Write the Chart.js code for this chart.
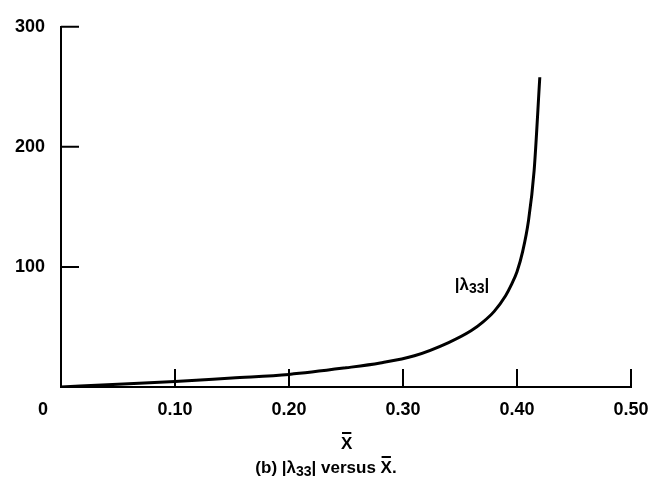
<!DOCTYPE html>
<html>
<head>
<meta charset="utf-8">
<script src="https://cdn.jsdelivr.net/npm/chart.js@4.4.0/dist/chart.umd.min.js"></script>
<style>
  html, body { margin: 0; padding: 0; background: #fff; }
  #wrap { width: 669px; height: 491px; }
</style>
</head>
<body>
<div id="wrap"><canvas id="lambdaChart" width="669" height="491"></canvas></div>
<script>
// X-bar positions and |lambda33| values along the curve
const xBar = [0, 0.05, 0.10, 0.15, 0.20, 0.25, 0.28, 0.31, 0.34, 0.36, 0.37, 0.38, 0.39, 0.395, 0.40, 0.405, 0.41, 0.415, 0.42];
const lambda33 = [0, 2.3, 4.5, 7.5, 10.5, 16, 20, 26, 37, 47, 54, 63, 76, 85, 96, 113, 138, 180, 258];

const xTicks = [0.10, 0.20, 0.30, 0.40, 0.50];
const yTicks = [100, 200, 300];

const FONT = "'Liberation Sans', Arial, sans-serif";

// text with a bar drawn over it
function overlined(ctx, text, x, y, font) {
    ctx.font = font;
    ctx.fillText(text, x, y);
    const m = ctx.measureText(text);
    const top = y - m.actualBoundingBoxAscent - 4;
    ctx.fillRect(x + 1, top - 1, m.width - 2, 2);
    return m.width;
}

// draws pieces left to right; sub pieces are smaller and shifted down
function drawRun(ctx, pieces, cx, y) {
    let total = 0;
    pieces.forEach(p => {
        ctx.font = p.font;
        p.w = ctx.measureText(p.t).width;
        total += p.w;
    });
    let x = cx - total / 2;
    pieces.forEach(p => {
        ctx.font = p.font;
        if (p.bar) overlined(ctx, p.t, x, y + (p.dy || 0), p.font);
        else ctx.fillText(p.t, x, y + (p.dy || 0));
        x += p.w;
    });
}

const decorations = {
    id: 'decorations',
    afterDraw(chart) {
        const ctx = chart.ctx;
        const xs = chart.scales.x;
        const ys = chart.scales.y;
        const x0 = xs.getPixelForValue(0);
        const y0 = ys.getPixelForValue(0);
        ctx.save();
        ctx.fillStyle = '#000';
        ctx.strokeStyle = '#000';
        ctx.lineWidth = 2;

        // tick marks pointing into the plot
        ctx.beginPath();
        xTicks.forEach(v => {
            const px = xs.getPixelForValue(v);
            ctx.moveTo(px, y0);
            ctx.lineTo(px, y0 - 18);
        });
        yTicks.forEach(v => {
            const py = ys.getPixelForValue(v);
            ctx.moveTo(x0, py);
            ctx.lineTo(x0 + 18, py);
        });
        ctx.stroke();

        ctx.textBaseline = 'alphabetic';

        // shared origin label
        ctx.font = 'bold 18px ' + FONT;
        ctx.textAlign = 'center';
        ctx.fillText('0', x0 - 18, y0 + 28);
        ctx.textAlign = 'left';

        // curve label
        const big = 'bold 17px ' + FONT;
        const small = 'bold 14px ' + FONT;
        const lx = xs.getPixelForValue(0.3605);
        const ly = ys.getPixelForValue(81);
        drawRun(ctx, [
            { t: '|\u03bb', font: big },
            { t: '33', font: small, dy: 3 },
            { t: '|', font: big }
        ], lx, ly);

        // axis title
        overlined(ctx, 'X', 341, 449, 'bold 17px ' + FONT);

        // caption
        const cap = 'bold 17px ' + FONT;
        const capSub = 'bold 14px ' + FONT;
        drawRun(ctx, [
            { t: '(b) |\u03bb', font: cap },
            { t: '33', font: capSub, dy: 3 },
            { t: '| versus ', font: cap },
            { t: 'X', font: cap, bar: true },
            { t: '.', font: cap }
        ], 326, 473);

        ctx.restore();
    }
};

const ctx = document.getElementById('lambdaChart').getContext('2d');
const lambdaChart = new Chart(ctx, {
    type: 'line',
    data: {
        datasets: [{
            label: '|λ33|',
            data: xBar.map((x, i) => ({ x: x, y: lambda33[i] })),
            borderColor: '#000',
            borderWidth: 3,
            pointRadius: 0,
            fill: false,
            cubicInterpolationMode: 'monotone'
        }]
    },
    options: {
        responsive: false,
        animation: false,
        layout: {
            padding: { left: 0, right: 38, top: 16, bottom: 0 }
        },
        plugins: {
            legend: { display: false },
            tooltip: { enabled: false }
        },
        scales: {
            x: {
                type: 'linear',
                min: 0,
                max: 0.5,
                afterFit: scale => { scale.height = 104; },
                border: { display: true, color: '#000', width: 2 },
                grid: { display: false, drawTicks: false, tickLength: 0 },
                ticks: {
                    stepSize: 0.1,
                    padding: 12,
                    color: '#000',
                    font: { family: FONT, size: 18, weight: 'bold' },
                    maxRotation: 0,
                    callback: v => (v === 0 ? '' : v.toFixed(2))
                }
            },
            y: {
                min: 0,
                max: 300,
                afterFit: scale => { scale.width = 61; },
                border: { display: true, color: '#000', width: 2 },
                grid: { display: false, drawTicks: false, tickLength: 0 },
                ticks: {
                    stepSize: 100,
                    padding: 16,
                    color: '#000',
                    font: { family: FONT, size: 18, weight: 'bold' },
                    callback: v => (v === 0 ? '' : String(v))
                }
            }
        }
    },
    plugins: [decorations]
});
</script>
</body>
</html>
